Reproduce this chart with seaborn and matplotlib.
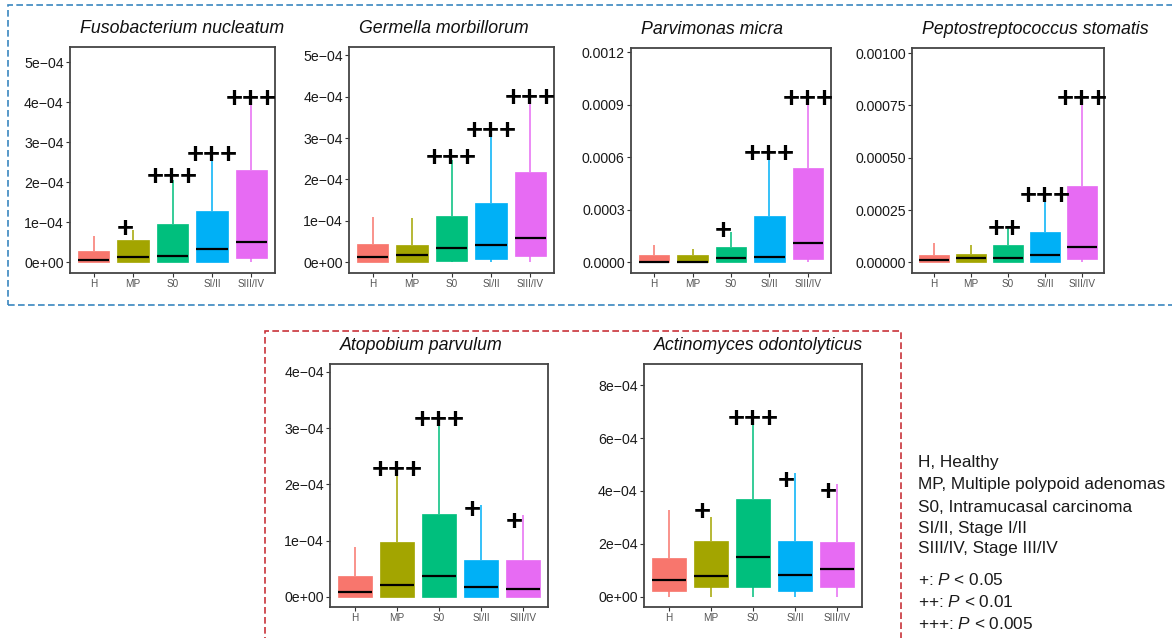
import numpy as np
import pandas as pd
import matplotlib
matplotlib.use("Agg")
import matplotlib.pyplot as plt
import seaborn as sns
from matplotlib.patches import Rectangle
from matplotlib.patches import PathPatch

sns.set_theme(style="white")
plt.rcParams["font.family"] = ["Liberation Sans", "DejaVu Sans"]
plt.rcParams["mathtext.fontset"] = "custom"
plt.rcParams["mathtext.it"] = "Liberation Sans:italic"
plt.rcParams["mathtext.rm"] = "Liberation Sans"

# ---------------- data (values in units of 1e-4) ----------------
groups = ["H", "MP", "S0", "SI/II", "SIII/IV"]
palette = ["#F8766D", "#A3A500", "#00BF7D", "#00B0F6", "#E76BF3"]
unit = 1e-4

# five-number summaries per group: [min, q1, median, q3, max]
fuso_stats = [[0, 0, 0.04, 0.275, 0.64], [0, 0, 0.125, 0.54, 0.80], [0, 0, 0.14, 0.96, 2.05],
              [0, 0, 0.33, 1.27, 2.67], [0, 0.10, 0.50, 2.30, 4.04]]
fuso_sig = ["", "+", "+++", "+++", "+++"]
fuso_sig_y = [None, 0.90, 2.20, 2.75, 4.15]

germ_stats = [[0, 0, 0.12, 0.44, 1.085], [0, 0, 0.17, 0.42, 1.06], [0, 0.03, 0.34, 1.12, 2.47],
              [0, 0.07, 0.42, 1.42, 3.15], [0, 0.14, 0.59, 2.19, 3.91]]
germ_sig = ["", "", "+++", "+++", "+++"]
germ_sig_y = [None, None, 2.59, 3.25, 4.03]

parv_stats = [[0, 0, 0.04, 0.42, 0.99], [0, 0, 0.0, 0.42, 0.74], [0, 0, 0.23, 0.90, 1.75],
              [0, 0, 0.30, 2.67, 6.13], [0, 0.21, 1.09, 5.41, 9.28]]
parv_sig = ["", "", "+", "+++", "+++"]
parv_sig_y = [None, None, 1.94, 6.36, 9.50]

pept_stats = [[0, 0, 0.11, 0.35, 0.94], [0, 0, 0.19, 0.38, 0.83], [0, 0, 0.19, 0.83, 1.71],
              [0, 0, 0.35, 1.44, 3.14], [0, 0.14, 0.73, 3.65, 7.77]]
pept_sig = ["", "", "++", "+++", "+++"]
pept_sig_y = [None, None, 1.75, 3.30, 7.97]

atop_stats = [[0, 0, 0.09, 0.36, 0.89], [0, 0, 0.21, 0.98, 2.19], [0, 0, 0.36, 1.48, 3.08],
              [0, 0, 0.17, 0.66, 1.63], [0, 0, 0.14, 0.65, 1.45]]
atop_sig = ["", "+++", "+++", "+", "+"]
atop_sig_y = [None, 2.31, 3.20, 1.59, 1.39]

acti_stats = [[0, 0.23, 0.64, 1.47, 3.27], [0, 0.35, 0.77, 2.10, 3.02], [0, 0.35, 1.50, 3.68, 6.67],
              [0, 0.23, 0.83, 2.12, 4.66], [0, 0.38, 1.03, 2.08, 4.28]]
acti_sig = ["", "+", "+++", "+", "+"]
acti_sig_y = [None, 3.31, 6.84, 4.48, 4.09]

titles = ["Fusobacterium nucleatum", "Germella morbillorum", "Parvimonas micra",
          "Peptostreptococcus stomatis", "Atopobium parvulum", "Actinomyces odontolyticus"]

fuso_ticks = ["0e+00", "1e\u221204", "2e\u221204", "3e\u221204", "4e\u221204", "5e\u221204"]
germ_ticks = ["0e+00", "1e\u221204", "2e\u221204", "3e\u221204", "4e\u221204", "5e\u221204"]
parv_ticks = ["0.0000", "0.0003", "0.0006", "0.0009", "0.0012"]
pept_ticks = ["0.00000", "0.00025", "0.00050", "0.00075", "0.00100"]
atop_ticks = ["0e+00", "1e\u221204", "2e\u221204", "3e\u221204", "4e\u221204"]
acti_ticks = ["0e+00", "2e\u221204", "4e\u221204", "6e\u221204", "8e\u221204"]

legend_lines = ["H, Healthy", "MP, Multiple polypoid adenomas", "S0, Intramucasal carcinoma",
                "SI/II, Stage I/II", "SIII/IV, Stage III/IV"]
p_lines = [("+", "0.05"), ("++", "0.01"), ("+++", "0.005")]

# ---------------- layout ----------------
W, H = 1172, 638
fig = plt.figure(figsize=(W / 100, H / 100), dpi=100)
fig.patch.set_facecolor("white")


def rect(x0, y0, x1, y1):
    return [x0 / W, 1 - y1 / H, (x1 - x0) / W, (y1 - y0) / H]


panels = [
    (rect(70, 47, 275, 273), fuso_stats, fuso_sig, fuso_sig_y, fuso_ticks, (-0.275, 5.375)),
    (rect(349, 47, 554, 273), germ_stats, germ_sig, germ_sig_y, germ_ticks, (-0.26, 5.2)),
    (rect(631, 48, 831, 273), parv_stats, parv_sig, parv_sig_y, parv_ticks, (-0.61, 12.25)),
    (rect(912, 48, 1104, 273), pept_stats, pept_sig, pept_sig_y, pept_ticks, (-0.512, 10.25)),
    (rect(330, 364, 548, 607), atop_stats, atop_sig, atop_sig_y, atop_ticks, (-0.183, 4.14)),
    (rect(644, 364, 862, 607), acti_stats, acti_sig, acti_sig_y, acti_ticks, (-0.39, 8.8)),
]

tick_steps = [1, 1, 3, 2.5, 1, 2]

for k, (pos, stats, sig, sig_y, ticklabels, ylim) in enumerate(panels):
    ax = fig.add_axes(pos)
    rows = []
    for g, s in zip(groups, stats):
        for v in s:
            rows.append((g, v * unit))
    df = pd.DataFrame(rows, columns=["group", "value"])
    sns.boxplot(data=df, x="group", y="value", hue="group", order=groups, hue_order=groups,
                palette=palette, saturation=1, width=0.8, whis=(0, 100), showcaps=False,
                showfliers=False, linewidth=1, legend=False, ax=ax)
    # style boxes: no outline
    for p in ax.patches:
        if isinstance(p, PathPatch):
            p.set_edgecolor(p.get_facecolor())
            p.set_linewidth(0.5)
    # style lines: whiskers coloured, medians black
    for ln in ax.lines:
        xd = np.asarray(ln.get_xdata(), dtype=float)
        if len(xd) < 2:
            continue
        gi = int(round(xd.mean()))
        gi = min(max(gi, 0), 4)
        if np.allclose(xd, xd[0]):
            ln.set_color(palette[gi])
            ln.set_alpha(0.85)
            ln.set_linewidth(1.3)
            ln.set_zorder(1.5)
        else:
            ln.set_color("black")
            ln.set_linewidth(1.6)
            ln.set_alpha(1)
            ln.set_zorder(3)

    ax.set_xlim(-0.6, 4.6)
    ax.set_ylim(ylim[0] * unit, ylim[1] * unit)
    ticks = [i * tick_steps[k] * unit for i in range(len(ticklabels))]
    ax.set_yticks(ticks)
    ax.set_yticklabels(ticklabels, fontsize=10.2, color="#1a1a1a")
    ax.set_xticks(range(5))
    ax.set_xticklabels(groups, fontsize=7.2, color="#555555")
    ax.set_xlabel("")
    ax.set_ylabel("")
    ax.tick_params(axis="both", which="both", length=3, width=0.8, color="#333333",
                   direction="out", left=True, bottom=True, pad=1.5)
    for sp in ax.spines.values():
        sp.set_visible(True)
        sp.set_color("#444444")
        sp.set_linewidth(1.3)
    ax.set_facecolor("white")
    ax.grid(False)

    # significance labels
    for i, (lab, yv) in enumerate(zip(sig, sig_y)):
        if not lab:
            continue
        dx = {1: -0.2, 2: -0.1, 3: 0.0}[len(lab)]
        ax.text(i + dx, yv * unit, lab, ha="center", va="center_baseline", fontsize=21,
                fontweight="bold", family="Liberation Sans", color="black", zorder=5,
                clip_on=False)

    # title (left aligned, italic)
    ax.annotate(titles[k], xy=(0, 1), xycoords="axes fraction", xytext=(7, 7),
                textcoords="offset points", ha="left", va="bottom", fontsize=12.8,
                fontstyle="italic", color="#111111")

# dashed frames
fig.patches.append(Rectangle((8 / W, 1 - 305 / H), (1185 - 8) / W, (305 - 5) / H,
                             transform=fig.transFigure, fill=False, edgecolor="#3a86bf",
                             linestyle=(0, (4, 2)), linewidth=1.2, zorder=0))
fig.patches.append(Rectangle((265 / W, 1 - 660 / H), (901 - 265) / W, (660 - 331) / H,
                             transform=fig.transFigure, fill=False, edgecolor="#c8323a",
                             linestyle=(0, (4, 2)), linewidth=1.2, zorder=0))

# legend text
ys = [463, 485, 507, 528, 549]
for t, y in zip(legend_lines, ys):
    fig.text(918 / W, 1 - y / H, t, ha="left", va="center", fontsize=12.4, color="#1a1a1a")
for (sym, pv), y in zip(p_lines, [580, 602, 624]):
    fig.text(918 / W, 1 - y / H, sym + ": $\\mathit{P}$ < " + pv, ha="left", va="center",
             fontsize=12.4, color="#1a1a1a")

fig.savefig("out.png", dpi=100, facecolor="white")
